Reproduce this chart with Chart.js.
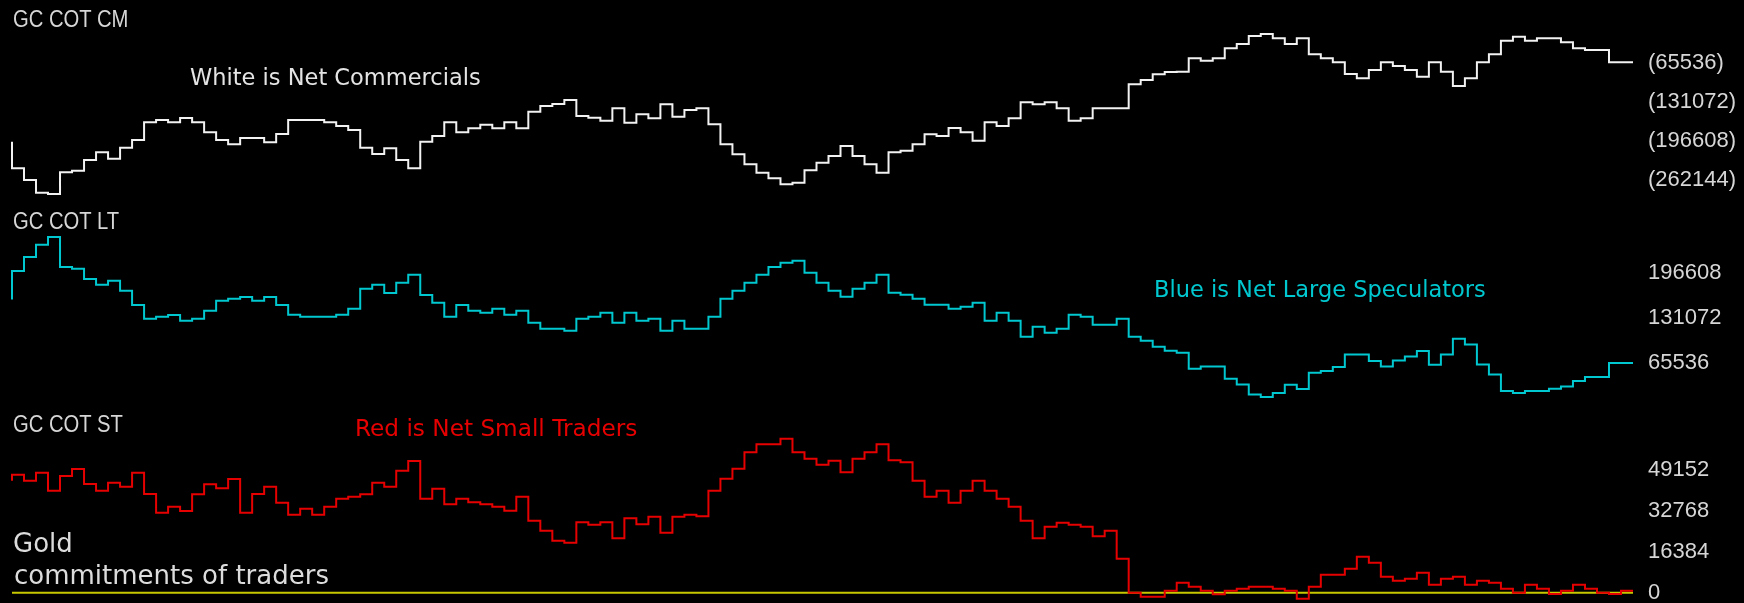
<!DOCTYPE html>
<html>
<head>
<meta charset="utf-8">
<script src="https://cdn.jsdelivr.net/npm/chart.js@4.4.1/dist/chart.umd.min.js"></script>
<style>
html,body{margin:0;padding:0;background:#000;overflow:hidden;}
#wrap{position:relative;width:1744px;height:603px;background:#000;}
#wrap canvas{position:absolute;left:0;top:0;}
.t{position:absolute;white-space:nowrap;line-height:1;margin:0;}
.title{font-family:"Liberation Sans",Arial,sans-serif;font-size:23px;color:#d6d6d6;transform:scaleX(0.88);transform-origin:0 0;}
.note{font-family:"DejaVu Sans",sans-serif;font-size:22.5px;}
.big{font-family:"DejaVu Sans",sans-serif;font-size:26px;color:#dcdcdc;}
</style>
</head>
<body>
<div id="wrap">
  <canvas id="cCM" width="1744" height="603"></canvas>
  <canvas id="cLT" width="1744" height="603"></canvas>
  <canvas id="cST" width="1744" height="603"></canvas>
  <div class="t title" style="left:13px;top:8px">GC COT CM</div>
  <div class="t title" style="left:13px;top:210px">GC COT LT</div>
  <div class="t title" style="left:13px;top:413px">GC COT ST</div>
  <div class="t note" style="left:190px;top:66px;color:#e4e4e4">White is Net Commercials</div>
  <div class="t note" style="left:1154px;top:278px;color:#00c8d0">Blue is Net Large Speculators</div>
  <div class="t note" style="left:355px;top:416px;color:#e60000;font-size:23.2px">Red is Net Small Traders</div>
  <div class="t big" style="left:13px;top:530px">Gold</div>
  <div class="t big" style="left:14px;top:562px">commitments of traders</div>
</div>
<script>
// ---- data (weekly net positions, contracts) ----
const netCommercials = [
  -197560, -242490, -262140, -283480, -285730, -249230, -246420, -228450, -215530, -226200,
  -207670, -194750, -164990, -161060, -164990, -157690, -164990, -181840, -194750, -202060,
  -191390, -191390, -198690, -184650, -161060, -161060, -161060, -164990, -171170, -177910,
  -207670, -218340, -208790, -228450, -242490, -197560, -188020, -164990, -181840, -175100,
  -168920, -175100, -164990, -175100, -147020, -137470, -134110, -127370, -154320, -157130,
  -162180, -141410, -165550, -151510, -158250, -134670, -155450, -144210, -141410, -168360,
  -202060, -218900, -235750, -249790, -259340, -269440, -266640, -245860, -232940, -221710,
  -204860, -221710, -235750, -249790, -215530, -212730, -202060, -185210, -188020, -174540,
  -181840, -195880, -164990, -171170, -158250, -131300, -134670, -131300, -141410, -162180,
  -158250, -141410, -141410, -141410, -100970, -93670, -84130, -80190, -79630, -57170,
  -61100, -57170, -40320, -33020, -19550, -16180, -23480, -33020, -23480, -50430,
  -57170, -63910, -83560, -90860, -76830, -63910, -70090, -76830, -88060, -63910,
  -79630, -103780, -90860, -63910, -50430, -27410, -20670, -27410, -23480, -23480,
  -30210, -40320, -43130, -43130, -63910, -63910
];
const netLargeSpeculators = [
  157980, 198970, 219230, 237070, 248160, 204760, 202350, 187400, 179200, 184990,
  170520, 149780, 130010, 132910, 135320, 127120, 130010, 141590, 156050, 158950,
  161360, 156050, 161360, 149780, 135800, 132910, 132910, 132910, 135800, 144480,
  173410, 179200, 167140, 182090, 193670, 164250, 153160, 132910, 149780, 141590,
  138690, 144480, 135800, 141590, 124230, 115550, 115550, 112650, 130010, 132910,
  138690, 124230, 138690, 127120, 130010, 112650, 127120, 115550, 115550, 132910,
  158950, 170520, 182090, 193670, 204760, 211030, 213920, 196560, 182090, 170520,
  161840, 173410, 182090, 193670, 167630, 164730, 158950, 150270, 150270, 144480,
  147370, 153160, 127120, 138690, 127120, 103970, 118440, 109760, 115550, 135800,
  132910, 121330, 121330, 130010, 103970, 98190, 89510, 83720, 80830, 57680,
  61050, 61050, 43210, 35010, 20550, 16690, 22480, 34530, 28260, 51890,
  54300, 60090, 78410, 78410, 68770, 61050, 69730, 75520, 83240, 63470,
  78410, 101080, 92880, 63950, 49480, 25370, 22480, 25370, 25370, 28740,
  32120, 39840, 45620, 45620, 65880, 65880
];
const netSmallTraders = [
  44870, 47270, 44870, 48070, 40860, 46750, 49550, 43550, 40860, 44070,
  42460, 48070, 39540, 32050, 34450, 32730, 39420, 43430, 41820, 45550,
  32050, 39540, 42460, 36050, 31250, 33650, 31250, 34450, 37660, 38460,
  39420, 44070, 42460, 48870, 52760, 37660, 41660, 35410, 37660, 36210,
  35410, 34450, 32850, 38460, 28840, 24840, 20830, 20030, 28200, 27240,
  28200, 21790, 29810, 27400, 30450, 24040, 30450, 31250, 30610, 40860,
  45670, 49670, 56240, 59450, 59450, 61690, 56240, 53680, 51280, 52880,
  48230, 53680, 56240, 59450, 53040, 52240, 44870, 38460, 40860, 36050,
  40860, 44870, 40860, 37660, 34450, 28840, 21790, 26440, 28040, 27240,
  26440, 22590, 24840, 13620, 0, -1600, -1600, 800, 4010, 2400,
  800, -640, 800, 1600, 2400, 2400, 1600, 800, -2400, 2400,
  7210, 7210, 9610, 14420, 12020, 6410, 4810, 5610, 8010, 3210,
  5610, 6410, 3210, 4810, 4010, 1600, 0, 3210, 1600, -520,
  800, 3210, 1600, 0, -520, 800
];
const zeroLevel = 0;
const cmTicks = [-65536, -131072, -196608, -262144];
const ltTicks = [196608, 131072, 65536];
const stTicks = [49152, 32768, 16384, 0];
const weeks = netCommercials.map((_, i) => i + 1);

// ---- layout (pixel calibration of each panel's value axis) ----
const H = 603;
const layoutCM = { refValue: -65536, refPx: 63.3, span: 65536, spanPx: 38.9 };
const layoutLT = { refValue: 131072, refPx: 318.0, span: 65536, spanPx: 45.3 };
const layoutST = { refValue: 0, refPx: 592.7, span: 16384, spanPx: 40.9 };

function range(l) {
  const upp = l.span / l.spanPx;
  const max = l.refValue + l.refPx * upp;
  return { min: max - H * upp, max };
}

function pts(series) { return series.map((v, i) => ({ x: weeks[i], y: v })); }

function panel(id, datasets, ticks, lay, fmt) {
  const r = range(lay);
  return new Chart(document.getElementById(id), {
    type: 'line',
    data: { datasets },
    options: {
      responsive: false,
      devicePixelRatio: 1,
      animation: false,
      events: [],
      layout: { padding: { left: 12, right: 0, top: 0, bottom: 0 } },
      plugins: { legend: { display: false }, tooltip: { enabled: false }, title: { display: false } },
      elements: { point: { radius: 0 }, line: { tension: 0 } },
      scales: {
        x: { type: 'linear', display: false, min: weeks[0], max: weeks[weeks.length - 1] },
        y: {
          type: 'linear', position: 'right', min: r.min, max: r.max,
          afterBuildTicks: s => { s.ticks = ticks.map(v => ({ value: v })); },
          afterFit: s => { s.width = 111; s.paddingTop = 0; s.paddingBottom = 0; },
          grid: { display: false, drawTicks: false },
          border: { display: false },
          ticks: {
            autoSkip: false, padding: 15, color: '#d6d6d6',
            font: { family: "'Liberation Sans', Arial, sans-serif", size: 22 },
            callback: fmt
          }
        }
      }
    }
  });
}

const lineStyle = { borderWidth: 2, pointRadius: 0, stepped: 'after', fill: false, clip: false };

panel('cCM', [
  Object.assign({ label: 'Net Commercials', data: pts(netCommercials), borderColor: '#f2f2f2' }, lineStyle)
], cmTicks, layoutCM, v => v < 0 ? '(' + (-v) + ')' : String(v));

panel('cLT', [
  Object.assign({ label: 'Net Large Speculators', data: pts(netLargeSpeculators), borderColor: '#00c8d0' }, lineStyle)
], ltTicks, layoutLT, v => String(v));

panel('cST', [
  Object.assign({ label: 'Net Small Traders', data: pts(netSmallTraders), borderColor: '#e60000' }, lineStyle),
  { label: 'Zero', data: [{ x: weeks[0], y: zeroLevel }, { x: weeks[weeks.length - 1], y: zeroLevel }],
    borderColor: '#c8c800', borderWidth: 2, pointRadius: 0, fill: false, clip: false }
], stTicks, layoutST, v => String(v));
</script>
</body>
</html>
